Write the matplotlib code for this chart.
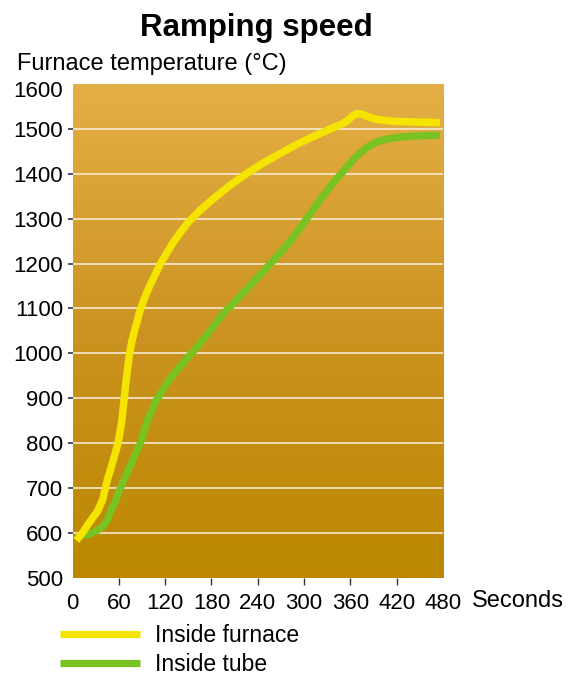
import numpy as np
import matplotlib
matplotlib.use("Agg")
import matplotlib.pyplot as plt
from matplotlib.colors import LinearSegmentedColormap
from matplotlib.transforms import ScaledTranslation

plt.rcParams['font.family'] = ['Liberation Sans', 'DejaVu Sans']

# ---- data ----
furnace_t = [5, 13, 21, 32, 39, 45, 50, 55, 59, 64, 67, 71, 74, 77, 80, 84, 87.5, 93, 100,
             114, 129, 140, 150, 166, 185, 204, 225, 247, 270, 290, 312, 333, 350, 356,
             361, 366, 370, 375, 381, 390, 398, 415, 432, 455, 476]
furnace_T = [583, 600, 621, 647, 673, 717, 745, 775, 800, 850, 900, 962, 1000, 1028, 1048,
             1073, 1095, 1122, 1150, 1200, 1243, 1270, 1292, 1320, 1348, 1374, 1400, 1424,
             1446, 1465, 1483, 1499, 1512, 1518, 1526, 1532, 1534, 1533, 1528, 1523, 1520,
             1517, 1516, 1515, 1514]

tube_t = [10, 20, 28, 38, 45, 50, 56, 62, 75, 88, 97, 108, 120, 133, 145, 157, 175,
          196, 205, 225, 243, 256, 270, 285, 303, 316, 329, 340, 351, 362, 368, 375, 382,
          390, 398, 410, 425, 445, 476]
tube_T = [594, 596, 602, 612, 628, 650, 672, 700, 750, 800, 850, 893, 928, 958, 982,
          1005, 1043, 1090, 1105, 1142, 1175, 1199, 1225, 1256, 1299, 1330, 1361, 1385,
          1406, 1428, 1439, 1450, 1459, 1467, 1473, 1478, 1482, 1484, 1486]

x_ticks = [0, 60, 120, 180, 240, 300, 360, 420, 480]
y_ticks = [500, 600, 700, 800, 900, 1000, 1100, 1200, 1300, 1400, 1500, 1600]
series_labels = ["Inside furnace", "Inside tube"]
title = "Ramping speed"
y_title = "Furnace temperature (\u00b0C)"
x_title = "Seconds"

W, H = 580, 677
fig = plt.figure(figsize=(W / 100, H / 100), dpi=100)
L, R, B, T = 72.5, 443, 577.7, 84
ax = fig.add_axes([L / W, 1 - B / H, (R - L) / W, (B - T) / H])

# gradient background
cmap = LinearSegmentedColormap.from_list("bg", ["#bb8800", "#cb9320", "#e4af46"])
grad = np.linspace(0, 1, 256).reshape(-1, 1)
ax.imshow(grad, extent=[0, 1, 0, 1], transform=ax.transAxes, aspect='auto',
          cmap=cmap, origin='lower', zorder=0)

ax.set_xlim(0, 480)
ax.set_ylim(500, 1600)

for y in y_ticks[1:-1]:
    ax.axhline(y, color='#f6e9d2', lw=1.2, zorder=1)

l1, = ax.plot(furnace_t, furnace_T, color='#f5e400', lw=5.4, solid_capstyle='butt',
              solid_joinstyle='round', zorder=3, label=series_labels[0])
l2, = ax.plot(tube_t, tube_T, color='#78c321', lw=5.3, solid_capstyle='butt',
              solid_joinstyle='round', zorder=2, label=series_labels[1])

for s in ax.spines.values():
    s.set_visible(False)

ax.set_xticks(x_ticks)
ax.set_xticklabels([str(v) for v in x_ticks])
ax.set_yticks(y_ticks)
ax.set_yticklabels([str(v) for v in y_ticks])
ax.tick_params(axis='x', direction='out', length=5, width=1.0, color='#333333',
               labelsize=16, pad=6)
ax.tick_params(axis='y', direction='out', length=3.8, width=1.2, color='#333333',
               labelsize=16, pad=3)
xt = ax.xaxis.get_major_ticks()
xt[0].tick1line.set_visible(False)
xt[-1].tick1line.set_visible(False)
yt = ax.yaxis.get_major_ticks()
yt[0].tick1line.set_visible(False)
yt[-1].tick1line.set_visible(False)
top_lab = yt[-1].label1
top_lab.set_transform(top_lab.get_transform() +
                      ScaledTranslation(0, -5 / 100, fig.dpi_scale_trans))

fig.text(256 / W, 1 - 36 / H, title, ha='center', va='baseline', fontsize=22.5,
         fontweight='bold')
fig.text(17 / W, 1 - 70 / H, y_title, ha='left', va='baseline', fontsize=17)
fig.text(472 / W, 1 - 607 / H, x_title, ha='left', va='baseline', fontsize=17)

fs = 16.5
fpx = fs * 100 / 72
leg = fig.legend(handles=[l1, l2], loc='upper left',
                 bbox_to_anchor=(60 / W, 1 - 624 / H), frameon=False, fontsize=fs,
                 borderpad=0, borderaxespad=0, handlelength=80 / fpx,
                 handletextpad=15 / fpx, labelspacing=0.27)
for h in leg.legend_handles:
    h.set_linewidth(5.2)

fig.savefig("out.png", dpi=100)
